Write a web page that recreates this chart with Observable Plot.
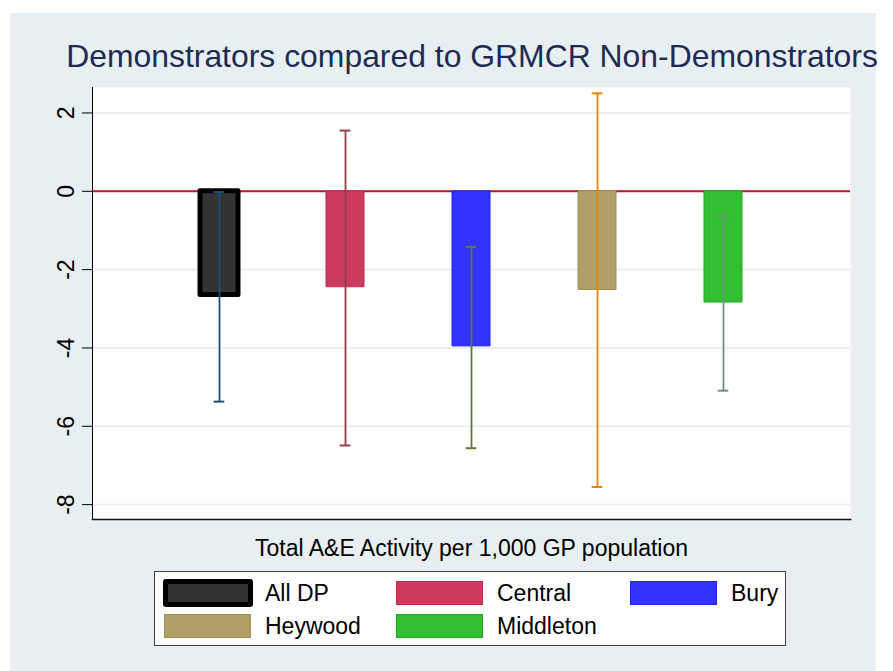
<!DOCTYPE html>
<html>
<head>
<meta charset="utf-8">
<script src="https://cdn.jsdelivr.net/npm/d3@7"></script>
<script src="https://cdn.jsdelivr.net/npm/@observablehq/plot@0.6"></script>
<style>
html, body { margin: 0; padding: 0; background: #ffffff; }
#wrap { position: relative; width: 893px; height: 671px; overflow: hidden; background: #ffffff;
  font-family: "Liberation Sans", Arial, Helvetica, sans-serif; }
#panel { position: absolute; left: 10px; top: 13px; width: 866px; height: 658px; background: #E8EFF2; }
#title { position: absolute; left: 0; top: 40px; width: 944px; text-align: center; white-space: nowrap;
  font-size: 31.9px; line-height: 32px; color: #1E2C52; margin: 0; font-weight: normal; }
#chart { position: absolute; left: 0; top: 0; }
#legend { position: absolute; left: 154px; top: 571px; width: 632px; height: 75px; box-sizing: border-box;
  background: #ffffff; border: 1px solid #404040; }
.item { position: absolute; height: 32px; display: flex; align-items: center; white-space: nowrap; }
.sw { box-sizing: border-box; width: 87px; height: 24px; flex: none; }
.lab { font-size: 23px; color: #000; margin-left: 14px; }
</style>
</head>
<body>
<div id="wrap">
  <div id="panel"></div>
  <div id="chart"></div>
  <div id="title">Demonstrators compared to GRMCR Non-Demonstrators</div>
  <div id="legend"></div>
</div>
<script>
// ---- data ----
const titleText = "Demonstrators compared to GRMCR Non-Demonstrators";
const xLabel = "Total A&E Activity per 1,000 GP population";
const categories = ["All DP", "Central", "Bury", "Heywood", "Middleton"];
const values = [-2.65, -2.45, -3.96, -2.52, -2.84];
const lower = [-5.37, -6.49, -6.56, -7.55, -5.09];
const upper = [-0.02, 1.55, -1.42, 2.50, -0.62];
const yTicks = [-8, -6, -4, -2, 0, 2];
const refLine = [0];

// ---- styles ----
const barFill = ["#333333", "#CD3A5B", "#3333FF", "#B09F69", "#33BF33"];
const barStroke = ["#000000", "#C42A52", "#2222F5", "#A28F52", "#1FA81F"];
const barStrokeW = [5, 1, 1, 1, 1];
const errColor = ["#1F4E7A", "#93404B", "#5B7A33", "#E8820C", "#6F8F86"];

const data = categories.map((c, i) => ({cat: c, value: values[i], lo: lower[i], hi: upper[i], i}));

const chart = Plot.plot({
  width: 893,
  height: 560,
  marginTop: 87,
  marginBottom: 41,
  marginLeft: 92,
  marginRight: 43,
  style: {background: "transparent", fontFamily: "'Liberation Sans', Arial, sans-serif", overflow: "visible"},
  x: {type: "band", domain: categories, paddingInner: 0.7, paddingOuter: 0.85, axis: null},
  y: {domain: [-8.38, 2.65], axis: null},
  color: {type: "identity"},
  marks: [
    Plot.frame({fill: "white"}),
    Plot.gridY(yTicks, {stroke: "#E3EBEE", strokeOpacity: 1, strokeWidth: 1.5}),
    Plot.ruleY(refLine, {stroke: "#C8102E", strokeWidth: 2}),
    Plot.barY(data, {
      x: "cat", y1: 0, y2: "value",
      fill: d => barFill[d.i], stroke: d => barStroke[d.i],
      strokeWidth: d => barStrokeW[d.i], strokeLinejoin: "round"
    }),
    Plot.ruleX(data, {x: "cat", y1: "lo", y2: "hi", stroke: d => errColor[d.i], strokeWidth: 1.8}),
    Plot.tickY(data, {x: "cat", y: "lo", stroke: d => errColor[d.i], strokeWidth: 2, insetLeft: 13.7, insetRight: 13.7}),
    Plot.tickY(data, {x: "cat", y: "hi", stroke: d => errColor[d.i], strokeWidth: 2, insetLeft: 13.7, insetRight: 13.7}),
    Plot.frame({anchor: "left", stroke: "#000", strokeWidth: 1}),
    Plot.frame({anchor: "bottom", stroke: "#111", strokeWidth: 1.6}),
    Plot.axisY({ticks: yTicks, tickFormat: d => String(d), tickSize: 10, tickRotate: -90, tickPadding: 9, fontSize: 23, color: "#000", label: null}),
    Plot.ruleX([xLabel], {insetTop: 432, insetBottom: -9, stroke: "#333", strokeWidth: 1.3}),
    Plot.text([xLabel], {text: d => d, frameAnchor: "bottom", dy: 36, lineAnchor: "bottom", fontSize: 23, fill: "#000"})
  ]
});
document.getElementById("chart").appendChild(chart);

// ---- legend ----
const legend = document.getElementById("legend");
const colX = [9, 241, 475];
const rowTop = [5, 38];
categories.forEach((c, i) => {
  const item = document.createElement("div");
  item.className = "item";
  item.style.left = colX[i % 3] + "px";
  item.style.top = rowTop[Math.floor(i / 3)] + "px";
  const sw = document.createElement("div");
  sw.className = "sw";
  sw.style.background = barFill[i];
  if (i === 0) {
    sw.style.width = "90px"; sw.style.height = "28px";
    sw.style.border = "5px solid #000"; sw.style.borderRadius = "3px";
    sw.style.marginLeft = "-1px";
  } else {
    sw.style.border = "1px solid " + barStroke[i];
  }
  const lab = document.createElement("span");
  lab.className = "lab";
  lab.textContent = c;
  if (i === 0) lab.style.marginLeft = "12px";
  item.appendChild(sw);
  item.appendChild(lab);
  legend.appendChild(item);
});
</script>
</body>
</html>
